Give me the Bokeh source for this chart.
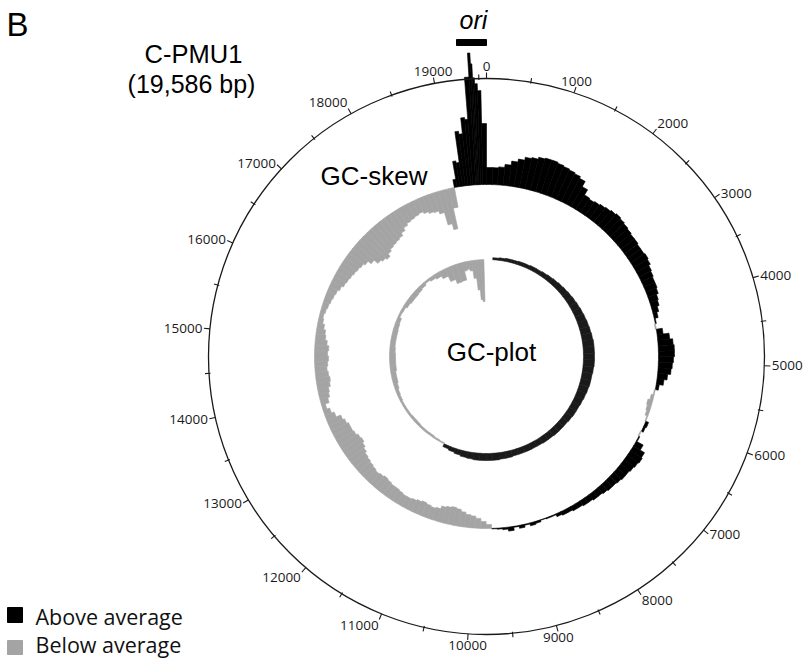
import numpy as np
from bokeh.plotting import figure
from bokeh.models import ColumnDataSource, Range1d
from bokeh.core.properties import value
from bokeh.embed import file_html
from bokeh.resources import INLINE

# ---------------- data ----------------
GENOME_LEN = 19586
GENOME_NAME = "C-PMU1"
GENOME_SIZE_LABEL = "(19,586 bp)"

# GC-skew windows (start bp) and values (relative, + above average, - below average)
SKEW_POS = list(range(0, 19000, 100)) + [19000, 19050, 19100, 19150, 19200, 19250,
                                         19300, 19340, 19390, 19415, 19430, 19450,
                                         19480, 19520]
SKEW_VAL = [
    17, 17, 18, 21, 25, 28, 31, 32, 34, 35, 35, 34, 33, 32, 31, 29, 23, 17, 16,
    17, 18, 19, 20, 21, 20, 19, 18, 17, 17,
    16, 16, 17, 16, 14, 13, 12, 12, 11, 9,
    8, 6, 4, 1, -1, 6, 12, 15, 16, 16,
    15, 14, 13, 10, 7, 3, -1, -3, -5, -4,
    -3, -1, 3, 2, -1, 1, 8, 13, 14, 13,
    12, 11, 11, 10, 9, 9, 8, 7, 7, 6,
    6, 5, 5, 4, 4, 3, 1, 1, 0.5, 2,
    3, 1, 3, 1, 4, 2, 1, 0.5, -4, -7,
    -10, -12, -13, -15, -17, -18, -17, -16, -13, -12,
    -13, -14, -13, -12, -11, -11, -12, -13, -13, -14,
    -15, -14, -13, -14, -15, -16, -17, -19, -21, -23,
    -22, -20, -19, -19, -17, -15, -10, -7, -4, -8,
    -10, -11, -13, -14, -13, -12, -13, -14, -13, -14,
    -12, -10, -9, -7, -5, -4, -5, -6, -7, -8,
    -9, -11, -13, -14, -15, -16, -17, -18, -20, -24,
    -29, -31, -33, -30, -28, -27, -26, -25, -22, -19,
    -17, -16, -15, -14, -16, -18, -19, -22, -35, -41,
    -20,
    8, 26, 24, 55, 52, 68, 66, 108, 132, 121, 107, 101, 94, 61,
]

# GC-plot (GC content deviation) windows and values
GC_POS = list(range(0, 18800, 200)) + list(range(18800, 19586, 100))
GC_VAL = [
    0, 2, 2.5, 3, 3, 3.5, 3.5, 4, 4, 4.5,
    5, 5.5, 6, 6.5, 7, 7.5, 8, 8.5, 9, 9.5,
    10, 10.5, 11, 11, 11, 11, 10.5, 10, 10, 9.5,
    9, 8.5, 8, 8, 7.5, 7, 7, 7, 6.5, 6.5,
    6, 6, 6, 6, 6, 6.5, 6.5, 7, 7, 7,
    7, 6.5, 6, 5, 4, 3, -1, -1.5, -2, -2,
    -2, -2.5, -2.5, -2, -2, -2, -2.5, -3, -4, -5,
    -5, -6, -6, -6, -5.5, -5, -5, -5, -4.5, -4,
    -2, -2.5, -4, -5, -5, -4.5, -3.5, -2, -3.5, -5,
    -8, -14, -18.5, -18,
    -9, -8, -10, -18, -30, -40, -42, 0,
]

TICK_POS = list(range(0, GENOME_LEN, 500))
TICK_LABELS = [str(t) for t in TICK_POS if t % 1000 == 0]

LEGEND_LABELS = ["Above average", "Below average"]
ABOVE_COLOR = "#000000"
BELOW_COLOR = "#a4a4a4"
GCPLOT_ABOVE_COLOR = "#1a1a1a"

# ---------------- geometry ----------------
R_OUTER = 278.0
R_SKEW = 172.0
R_GC = 97.0
SKEW_SCALE = 1.0
GC_SCALE = 1.0

W, H = 803, 661
CX, CY = 486, 356
p = figure(width=W, height=H, output_backend="svg", toolbar_location=None,
           x_axis_type=None, y_axis_type=None, min_border=0,
           x_range=Range1d(-CX, W - CX), y_range=Range1d(CY - H, CY))
p.outline_line_color = None
p.grid.visible = False
p.background_fill_color = "white"
p.border_fill_color = "white"


def theta(pos):
    return 2 * np.pi * np.asarray(pos, dtype=float) / GENOME_LEN


def ring(pos, vals, base, scale, pos_color, neg_color):
    pos = np.asarray(pos, dtype=float)
    vals = np.asarray(vals, dtype=float)
    ends = np.append(pos[1:], GENOME_LEN)
    keep = vals != 0
    pos, ends, vals = pos[keep], ends[keep], vals[keep]
    d = vals * scale
    inner = base + np.minimum(d, 0)
    outer = base + np.maximum(d, 0)
    start = np.pi / 2 - theta(ends)
    end = np.pi / 2 - theta(pos)
    colors = [pos_color if v > 0 else neg_color for v in vals]
    src = ColumnDataSource(dict(x=np.zeros(len(vals)), y=np.zeros(len(vals)),
                                ir=inner, orr=outer, sa=start, ea=end, c=colors))
    p.annular_wedge(x="x", y="y", inner_radius="ir", outer_radius="orr",
                    start_angle="sa", end_angle="ea", fill_color="c",
                    line_color="c", line_width=0.6, source=src)


ring(SKEW_POS, SKEW_VAL, R_SKEW, SKEW_SCALE, ABOVE_COLOR, BELOW_COLOR)
ring(GC_POS, GC_VAL, R_GC, GC_SCALE, GCPLOT_ABOVE_COLOR, BELOW_COLOR)

# outer scale circle
p.circle(x=[0], y=[0], radius=R_OUTER, fill_color=None, line_color="#1a1a1a",
         line_width=1.3)

# ticks
tp = np.array(TICK_POS, dtype=float)
th = theta(tp)
major = (tp % 1000 == 0)
r0 = np.where(major, R_OUTER, R_OUTER - 1.5)
r1 = np.where(major, R_OUTER + 6, R_OUTER + 4)
p.segment(x0=r0 * np.sin(th), y0=r0 * np.cos(th), x1=r1 * np.sin(th),
          y1=r1 * np.cos(th), line_color="#1a1a1a", line_width=1.1)

# tick labels
lt = theta([t for t in TICK_POS if t % 1000 == 0])
s, c = np.sin(lt), np.cos(lt)
RL = R_OUTER + 7.5
aligns = ["left" if v > 0.35 else ("right" if v < -0.35 else "center") for v in s]
bases = ["bottom" if v > 0.7 else ("top" if v < -0.7 else "middle") for v in c]
lsrc = ColumnDataSource(dict(x=RL * s, y=RL * c, t=TICK_LABELS, a=aligns, b=bases))
p.text(x="x", y="y", text="t", text_align="a", text_baseline="b", source=lsrc,
       text_font=value("Open Sans"), text_font_size="13.5px", text_color="#1a1a1a")

# ori marker
p.quad(left=[-30], right=[0], bottom=[311], top=[317], fill_color="black",
       line_color="black")
p.text(x=[-13], y=[337], text=["ori"], text_font=value("Liberation Sans"),
       text_font_size="25px", text_font_style="italic", text_align="center",
       text_baseline="middle", text_color="black")

# titles
p.text(x=[-480], y=[332], text=["B"], text_font=value("Liberation Sans"),
       text_font_size="33px", text_align="left", text_baseline="middle",
       text_color="black")
p.text(x=[-293], y=[303], text=[GENOME_NAME], text_font=value("Liberation Sans"),
       text_font_size="25.5px", text_align="center", text_baseline="middle",
       text_color="black")
p.text(x=[-295], y=[273], text=[GENOME_SIZE_LABEL], text_font=value("Liberation Sans"),
       text_font_size="25px", text_align="center", text_baseline="middle",
       text_color="black")
p.text(x=[-59], y=[181], text=["GC-skew"], text_font=value("Liberation Sans"),
       text_font_size="26px", text_align="right", text_baseline="middle",
       text_color="black")
p.text(x=[5], y=[5], text=["GC-plot"], text_font=value("Liberation Sans"),
       text_font_size="26px", text_align="center", text_baseline="middle",
       text_color="black")

# legend
p.quad(left=[-479, -479], right=[-464, -464], bottom=[-266, -298], top=[-251, -284],
       fill_color=[ABOVE_COLOR, BELOW_COLOR], line_color=[ABOVE_COLOR, BELOW_COLOR])
p.text(x=[-451, -451], y=[-260, -288], text=LEGEND_LABELS,
       text_font=value("Open Sans"), text_font_size="21.5px", text_align="left",
       text_baseline="middle", text_color="#111111")

open("out.html", "w").write(file_html(p, INLINE))
